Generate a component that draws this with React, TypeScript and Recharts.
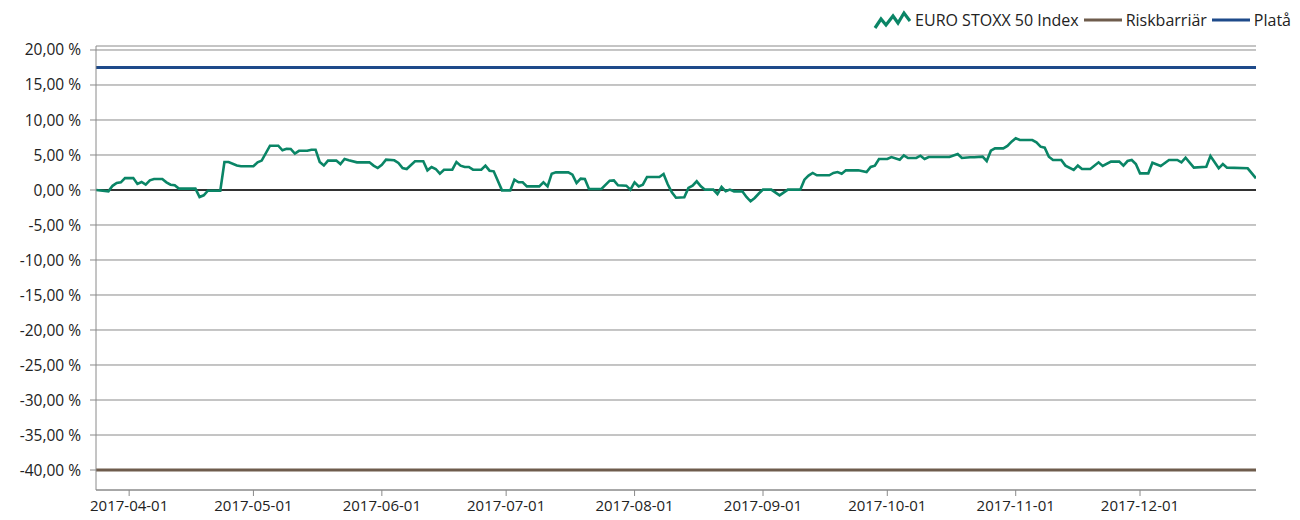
import React from 'react';
import { LineChart, Line, XAxis, YAxis, CartesianGrid, ReferenceLine } from 'recharts';

const FONT = '"Open Sans", "DejaVu Sans", sans-serif';

const dates: string[] = [
  '2017-03-24','2017-03-27','2017-03-28','2017-03-29','2017-03-30','2017-03-31','2017-04-02','2017-04-03','2017-04-04','2017-04-05',
  '2017-04-06','2017-04-07','2017-04-09','2017-04-10','2017-04-11','2017-04-12','2017-04-13','2017-04-17','2017-04-18','2017-04-19',
  '2017-04-20','2017-04-23','2017-04-24','2017-04-25','2017-04-27','2017-04-28','2017-05-01','2017-05-02','2017-05-03','2017-05-05',
  '2017-05-07','2017-05-08','2017-05-09','2017-05-10','2017-05-11','2017-05-12','2017-05-14','2017-05-15','2017-05-16','2017-05-17',
  '2017-05-18','2017-05-19','2017-05-21','2017-05-22','2017-05-23','2017-05-24','2017-05-26','2017-05-29','2017-05-30','2017-05-31',
  '2017-06-01','2017-06-02','2017-06-04','2017-06-05','2017-06-06','2017-06-07','2017-06-09','2017-06-11','2017-06-12','2017-06-13',
  '2017-06-14','2017-06-15','2017-06-16','2017-06-18','2017-06-19','2017-06-20','2017-06-21','2017-06-22','2017-06-23','2017-06-25',
  '2017-06-26','2017-06-27','2017-06-28','2017-06-30','2017-07-02','2017-07-03','2017-07-04','2017-07-05','2017-07-06','2017-07-09',
  '2017-07-10','2017-07-11','2017-07-12','2017-07-13','2017-07-16','2017-07-17','2017-07-18','2017-07-19','2017-07-20','2017-07-21',
  '2017-07-24','2017-07-26','2017-07-27','2017-07-28','2017-07-30','2017-07-31','2017-08-01','2017-08-02','2017-08-03','2017-08-04',
  '2017-08-07','2017-08-08','2017-08-09','2017-08-10','2017-08-11','2017-08-13','2017-08-14','2017-08-15','2017-08-16','2017-08-17',
  '2017-08-18','2017-08-20','2017-08-21','2017-08-22','2017-08-23','2017-08-24','2017-08-25','2017-08-27','2017-08-28','2017-08-29',
  '2017-08-30','2017-08-31','2017-09-01','2017-09-03','2017-09-05','2017-09-07','2017-09-10','2017-09-11','2017-09-12','2017-09-13',
  '2017-09-14','2017-09-17','2017-09-18','2017-09-19','2017-09-20','2017-09-21','2017-09-24','2017-09-26','2017-09-27','2017-09-28',
  '2017-09-29','2017-10-01','2017-10-02','2017-10-04','2017-10-05','2017-10-06','2017-10-08','2017-10-09','2017-10-10','2017-10-11',
  '2017-10-16','2017-10-18','2017-10-19','2017-10-21','2017-10-22','2017-10-24','2017-10-25','2017-10-26','2017-10-27','2017-10-29',
  '2017-10-30','2017-10-31','2017-11-01','2017-11-02','2017-11-05','2017-11-06','2017-11-07','2017-11-08','2017-11-09','2017-11-10',
  '2017-11-12','2017-11-13','2017-11-15','2017-11-16','2017-11-17','2017-11-19','2017-11-21','2017-11-22','2017-11-24','2017-11-26',
  '2017-11-27','2017-11-28','2017-11-29','2017-11-30','2017-12-01','2017-12-03','2017-12-04','2017-12-06','2017-12-08','2017-12-10',
  '2017-12-11','2017-12-12','2017-12-14','2017-12-17','2017-12-18','2017-12-20','2017-12-21','2017-12-22','2017-12-27','2017-12-29',
];

const indexValues: number[] = [
  0.0, -0.2, 0.6, 1.0, 1.1, 1.7, 1.7, 0.86, 1.14, 0.76,
  1.38, 1.57, 1.57, 1.1, 0.76, 0.67, 0.2, 0.2, -1.0, -0.76,
  -0.1, -0.1, 4.0, 4.0, 3.5, 3.4, 3.4, 3.95, 4.2, 6.33,
  6.33, 5.67, 5.9, 5.86, 5.2, 5.6, 5.6, 5.76, 5.76, 4.0,
  3.5, 4.2, 4.2, 3.7, 4.43, 4.24, 3.95, 3.95, 3.48, 3.14,
  3.6, 4.33, 4.24, 3.86, 3.14, 3.0, 4.1, 4.1, 2.81, 3.29,
  3.0, 2.33, 2.9, 2.9, 4.0, 3.48, 3.29, 3.29, 2.9, 2.9,
  3.48, 2.76, 2.67, -0.05, -0.05, 1.48, 1.1, 1.1, 0.52, 0.52,
  1.1, 0.52, 2.33, 2.52, 2.52, 2.2, 1.0, 1.62, 1.57, 0.14,
  0.14, 1.33, 1.38, 0.67, 0.62, 0.05, 1.1, 0.52, 0.76, 1.86,
  1.86, 2.29, 0.82, -0.34, -1.1, -1.05, 0.29, 0.62, 1.24, 0.52,
  0.05, 0.05, -0.57, 0.43, -0.19, 0.05, -0.19, -0.19, -1.0, -1.62,
  -1.14, -0.5, 0.05, 0.05, -0.76, 0.05, 0.05, 1.48, 2.05, 2.43,
  2.1, 2.1, 2.43, 2.57, 2.33, 2.81, 2.81, 2.57, 3.29, 3.48,
  4.43, 4.43, 4.71, 4.33, 4.95, 4.57, 4.57, 4.9, 4.43, 4.71,
  4.71, 5.14, 4.57, 4.67, 4.67, 4.76, 4.14, 5.62, 5.95, 5.95,
  6.3, 6.9, 7.38, 7.14, 7.14, 6.81, 6.19, 6.05, 4.76, 4.29,
  4.29, 3.48, 2.86, 3.48, 3.0, 3.0, 3.95, 3.43, 4.05, 4.05,
  3.48, 4.14, 4.29, 3.71, 2.38, 2.38, 3.9, 3.43, 4.29, 4.29,
  3.95, 4.62, 3.19, 3.33, 4.86, 3.1, 3.71, 3.19, 3.1, 1.67,
];

const plateauLevel = 17.5;
const barrierLevel = -40;

const xRange: string[] = ['2017-03-24', '2017-12-29'];
const xTickDates: string[] = [
  '2017-04-01','2017-05-01','2017-06-01','2017-07-01','2017-08-01',
  '2017-09-01','2017-10-01','2017-11-01','2017-12-01',
];
const yTicks: number[] = [20, 15, 10, 5, 0, -5, -10, -15, -20, -25, -30, -35, -40];
const yDomain: number[] = [-42.857, 20.571];

const seriesNames = { index: 'EURO STOXX 50 Index', barrier: 'Riskbarriär', plateau: 'Platå' };
const COLORS = { index: '#0a8566', barrier: '#6e5c4c', plateau: '#1e4a8a', grid: '#8a8a8a', text: '#222222' };

const rows = dates.map((d, i) => ({
  t: Date.parse(d),
  index: indexValues[i],
  plateau: plateauLevel,
  barrier: barrierLevel,
}));

const fmtDate = (t: number) => {
  const d = new Date(t);
  const m = String(d.getUTCMonth() + 1).padStart(2, '0');
  const day = String(d.getUTCDate()).padStart(2, '0');
  return `${d.getUTCFullYear()}-${m}-${day}`;
};
const fmtPct = (v: number) => `${v.toFixed(2).replace('.', ',')} %`;

function Legend() {
  return (
    <div
      style={{
        position: 'absolute', top: 9, right: 9, display: 'flex', alignItems: 'center',
        fontFamily: FONT, fontSize: 16, color: COLORS.text, whiteSpace: 'nowrap',
      }}
    >
      <svg width={38} height={20} style={{ marginRight: 4 }}>
        <polyline points="2,18 8,9 13,15 20,6 25,13 31,3 37,11" fill="none" stroke={COLORS.index} strokeWidth={3.2} strokeLinejoin="miter" />
      </svg>
      <span>{seriesNames.index}</span>
      <svg width={38} height={6} style={{ marginLeft: 5, marginRight: 4 }}>
        <line x1={0} y1={3} x2={38} y2={3} stroke={COLORS.barrier} strokeWidth={3} />
      </svg>
      <span>{seriesNames.barrier}</span>
      <svg width={38} height={6} style={{ marginLeft: 5, marginRight: 4 }}>
        <line x1={0} y1={3} x2={38} y2={3} stroke={COLORS.plateau} strokeWidth={3} />
      </svg>
      <span>{seriesNames.plateau}</span>
    </div>
  );
}

export default function App() {
  return (
    <div style={{ position: 'absolute', left: 0, top: 0, width: 1300, height: 520, background: '#fff', fontFamily: FONT }}>
      <LineChart width={1300} height={520} data={rows} margin={{ top: 46, right: 44, bottom: 0, left: 0 }}>
        <CartesianGrid horizontal vertical={false} stroke={COLORS.grid} strokeWidth={1} />
        <XAxis
          type="number"
          dataKey="t"
          domain={[Date.parse(xRange[0]), Date.parse(xRange[1])]}
          ticks={xTickDates.map((d) => Date.parse(d))}
          tickFormatter={fmtDate}
          height={30}
          tickSize={6}
          tickMargin={4}
          stroke={COLORS.grid}
          tick={{ fill: COLORS.text, fontSize: 15, fontFamily: FONT }}
          allowDataOverflow
        />
        <YAxis
          type="number"
          domain={yDomain}
          ticks={yTicks}
          tickFormatter={fmtPct}
          width={96}
          tickSize={6}
          tickMargin={9}
          stroke={COLORS.grid}
          tick={{ fill: COLORS.text, fontSize: 15.5, fontFamily: FONT }}
          allowDataOverflow
        />
        <ReferenceLine y={0} stroke="#000" strokeWidth={1.5} />
        <Line dataKey="barrier" name={seriesNames.barrier} stroke={COLORS.barrier} strokeWidth={3} dot={false} isAnimationActive={false} />
        <Line dataKey="plateau" name={seriesNames.plateau} stroke={COLORS.plateau} strokeWidth={3} dot={false} isAnimationActive={false} />
        <Line dataKey="index" name={seriesNames.index} stroke={COLORS.index} strokeWidth={2.6} dot={false} isAnimationActive={false} strokeLinejoin="miter" />
      </LineChart>
      <Legend />
    </div>
  );
}
